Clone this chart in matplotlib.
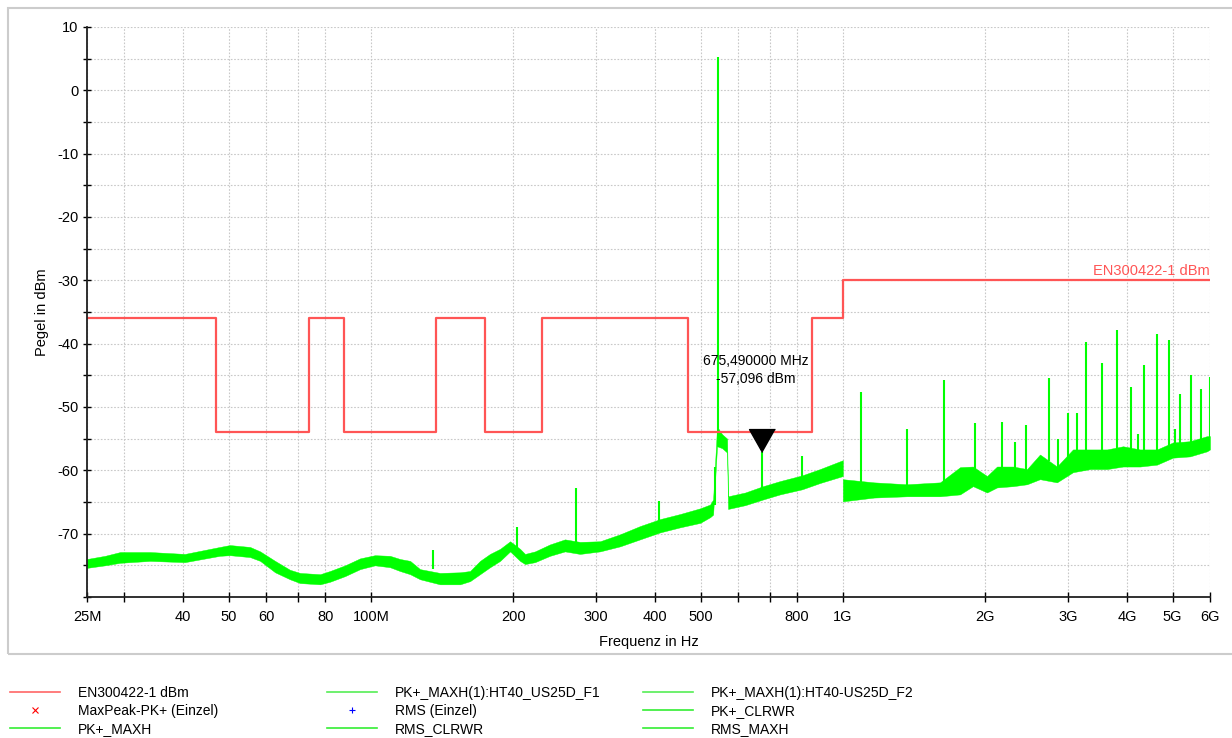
import numpy as np
import matplotlib
matplotlib.use("Agg")
import matplotlib.pyplot as plt
from matplotlib.lines import Line2D
from matplotlib.patches import Rectangle
from matplotlib.ticker import FixedLocator, FixedFormatter, NullLocator, MultipleLocator

plt.rcParams['font.family'] = ['Liberation Sans', 'DejaVu Sans']
plt.rcParams['axes.unicode_minus'] = False

# Grenzwert EN300422-1 (MHz, dBm), Stufen
limit_mhz = [25, 47, 74, 87.5, 137, 174, 230, 470, 862, 1000, 6000]
limit_dbm = [-36, -54, -36, -54, -36, -54, -36, -54, -36, -30, -30]

# Messkurve unter 1 GHz: Frequenz, obere und untere Huellkurve
f_low = [25.0, 27.3, 29.4, 34.0, 40.3, 47.8, 50.2, 55.4, 58.2, 62.6, 67.3, 70.7,
         78.0, 81.8, 88.1, 94.8, 101.9, 109.7, 115.2, 121.0, 127.0, 140.0, 154.4,
         162.1, 170.2, 178.7, 187.7, 197.1, 206.9, 212.0, 222.6, 239.4, 257.6,
         277.2, 305.7, 337.2, 371.7, 409.9, 451.9, 498.3, 523.2, 530.9, 541.2,
         554.7, 568.4, 571.0, 620.9, 677.6, 735.9, 819.4, 894.6, 1000.0]
up_low = [-74.0, -73.5, -72.9, -72.9, -73.2, -72.1, -71.8, -72.1, -72.8, -74.3,
          -75.7, -76.2, -76.4, -75.9, -75.0, -73.9, -73.4, -73.5, -74.0, -74.3,
          -75.6, -76.2, -76.1, -75.9, -74.3, -73.2, -72.4, -71.2, -72.4, -73.2,
          -72.8, -71.7, -70.9, -71.3, -71.2, -70.1, -68.8, -67.7, -66.9, -66.0,
          -65.4, -64.6, -53.1, -54.3, -55.0, -64.1, -63.5, -62.5, -61.7, -60.8,
          -59.8, -58.4]
lo_low = [-75.4, -75.0, -74.6, -74.3, -74.5, -73.5, -73.4, -73.7, -74.3, -76.1,
          -77.2, -77.8, -78.0, -77.6, -76.7, -75.6, -75.0, -75.3, -75.9, -76.4,
          -77.2, -78.0, -78.0, -77.5, -76.4, -75.3, -74.3, -72.8, -74.3, -74.8,
          -74.5, -73.5, -72.8, -73.2, -72.8, -72.0, -70.9, -69.8, -69.0, -68.3,
          -67.4, -67.0, -56.2, -56.5, -57.2, -66.1, -65.5, -64.6, -63.8, -63.0,
          -62.0, -60.9]

# Messkurve 1 GHz - 6 GHz
f_high = [1000, 1164, 1368, 1607, 1772, 1887, 2021, 2122, 2295, 2457, 2617, 2843,
          3074, 3342, 3630, 3925, 4264, 4633, 5008, 5442, 5913, 6000]
up_high = [-61.4, -61.9, -62.2, -61.9, -59.5, -59.4, -60.9, -59.4, -59.4, -59.8,
           -57.5, -59.4, -56.7, -56.7, -56.7, -56.2, -56.7, -56.7, -55.6, -55.4,
           -54.6, -54.6]
lo_high = [-64.9, -64.3, -64.1, -64.1, -63.8, -62.5, -63.5, -62.7, -62.5, -62.2,
           -61.4, -61.9, -60.3, -59.8, -59.8, -59.4, -59.4, -59.1, -58.0, -57.8,
           -57.0, -56.7]

# Einzelne Spitzen: Frequenz, Spitzenwert, Fusspunkt
spike_mhz = [135.4, 203.9, 271.9, 407.9, 537, 544, 675.49, 819.4, 1092, 1368, 1638,
             1906, 2175, 2317, 2444, 2734, 2857, 3000, 3135, 3276, 3543, 3812, 4081,
             4223, 4348, 4633, 4912, 5058, 5183, 5470, 5740, 5990]
spike_top = [-72.6, -69.0, -62.8, -64.9, -59.4, 5.2, -57.096, -57.8, -47.6, -53.4,
             -45.7, -52.6, -52.4, -55.6, -52.9, -45.4, -55.0, -51.0, -51.0, -39.7,
             -43.0, -37.8, -46.9, -54.3, -43.3, -38.4, -39.5, -53.4, -47.9, -44.9,
             -47.2, -45.2]
spike_base = [-75.5, -72.5, -72.0, -68.5, -65.5, -55.0, -63.5, -62.0, -62.0, -62.5,
              -62.0, -60.0, -60.0, -60.0, -60.0, -58.5, -59.5, -58.0, -57.5, -57.5,
              -57.5, -57.0, -57.0, -57.0, -57.0, -57.0, -56.5, -56.0, -56.0, -56.0,
              -55.5, -55.0]

marker_mhz = 675.49
marker_dbm = -57.096

xticks = [25, 30, 40, 50, 60, 70, 80, 100, 200, 300, 400, 500, 600, 700, 800,
          1000, 2000, 3000, 4000, 5000, 6000]
xlabels = ['25M', '', '40', '50', '60', '', '80', '100M', '200', '300', '400', '500',
           '', '', '800', '1G', '2G', '3G', '4G', '5G', '6G']

red = '#ff5555'
green = '#00ff00'

fig = plt.figure(figsize=(12.32, 7.38), dpi=100)
ax = fig.add_axes([87 / 1232, 1 - 597 / 738, (1210 - 87) / 1232, (597 - 27) / 738])

ax.fill_between(f_low, lo_low, up_low, color=green, lw=0.3)
ax.fill_between(f_high, lo_high, up_high, color=green, lw=0.3)
ax.vlines(spike_mhz, spike_base, spike_top, color=green, lw=1.5)

ax.step(limit_mhz, limit_dbm, where='post', color=red, lw=1.6)
ax.annotate('EN300422-1 dBm', (limit_mhz[-1], limit_dbm[-1]), xytext=(0, 2),
            textcoords='offset pixels', ha='right', va='bottom', color=red, fontsize=10.5)

# Marker
ax.plot([marker_mhz], [marker_dbm], ls='none', color='black',
        marker=[(0, 0), (-13, 23), (13, 23)], markersize=33)
ax.annotate('675,490000 MHz\n-57,096 dBm', (marker_mhz, marker_dbm), xytext=(-7, 82),
            textcoords='offset pixels', ha='center', va='center', fontsize=10,
            multialignment='center', linespacing=1.35)

ax.set_xscale('log')
ax.set_xlim(25, 6000)
ax.set_ylim(-80, 10)
ax.xaxis.set_major_locator(FixedLocator(xticks))
ax.xaxis.set_major_formatter(FixedFormatter(xlabels))
ax.xaxis.set_minor_locator(NullLocator())
ax.yaxis.set_major_locator(FixedLocator(np.arange(-70, 11, 10)))
ax.yaxis.set_minor_locator(MultipleLocator(5))

ax.grid(True, which='both', color='#c8c8c8', ls=(0, (1.5, 1.5)), lw=0.8)
ax.set_axisbelow(True)
for s in ['top', 'right']:
    ax.spines[s].set_visible(False)
for s in ['left', 'bottom']:
    ax.spines[s].set_color('#202020')
    ax.spines[s].set_linewidth(1.3)
ax.tick_params(axis='y', which='both', direction='inout', length=6, width=1,
               labelsize=10.5, pad=3)
ax.tick_params(axis='x', which='both', direction='inout', length=7, width=1,
               labelsize=10.5, pad=6)

ax.set_xlabel('Frequenz in Hz', fontsize=10.5, labelpad=8)
ax.set_ylabel('Pegel in dBm', fontsize=10.5, labelpad=6)

fig.patches.append(Rectangle((8 / 1232, 1 - 654 / 738), 1.1, 646 / 738,
                             transform=fig.transFigure, fill=False,
                             edgecolor='#cccccc', lw=1.5))

# Legende in drei Spalten
leg_cols = [
    [('EN300422-1 dBm', dict(color='#ff6666', lw=1.2)),
     ('MaxPeak-PK+ (Einzel)', dict(color='red', ls='none', marker='x', ms=4, mew=0.8)),
     ('PK+_MAXH', dict(color='#33ee33', lw=1.2))],
    [('PK+_MAXH(1):HT40_US25D_F1', dict(color='#55ee55', lw=1.2)),
     ('RMS (Einzel)', dict(color='blue', ls='none', marker='+', ms=5, mew=0.8)),
     ('RMS_CLRWR', dict(color='#33ee33', lw=1.2))],
    [('PK+_MAXH(1):HT40-US25D_F2', dict(color='#55ee55', lw=1.2)),
     ('PK+_CLRWR', dict(color='#33ee33', lw=1.2)),
     ('RMS_MAXH', dict(color='#33ee33', lw=1.2))],
]
leg_x = [10, 327, 643]
for col, x0 in zip(leg_cols, leg_x):
    handles = [Line2D([], [], **kw) for _, kw in col]
    labels = [lab for lab, _ in col]
    leg = fig.legend(handles, labels, loc='upper left',
                     bbox_to_anchor=(x0 / 1232, 1 - 686 / 738), frameon=False,
                     fontsize=10, handlelength=3.6, handletextpad=1.3,
                     labelspacing=0.3, borderpad=0, borderaxespad=0, numpoints=1)

fig.savefig('out.png', dpi=100)
